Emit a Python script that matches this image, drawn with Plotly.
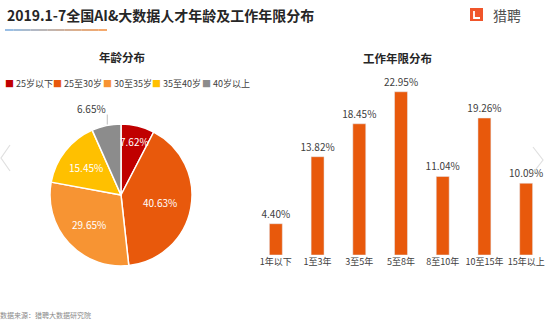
import math
import plotly.graph_objects as go

W, H = 553, 321

# ---- data ----
age_labels = ["25岁以下", "25至30岁", "30至35岁", "35至40岁", "40岁以上"]
age_values = [7.62, 40.63, 29.65, 15.45, 6.65]
age_colors = ["#C00000", "#E8590C", "#F79433", "#FFC000", "#8C8C8C"]

exp_labels = ["1年以下", "1至3年", "3至5年", "5至8年", "8至10年", "10至15年", "15年以上"]
exp_values = [4.40, 13.82, 18.45, 22.95, 11.04, 19.26, 10.09]

title_text = "2019.1-7全国AI&大数据人才年龄及工作年限分布"
source_text = "数据来源：猎聘大数据研究院"

FONT = "Noto Sans CJK SC"


def px(x):
    return x / W


def py(y):
    return (H - y) / H


# pie geometry (pixels)
PCX, PCY, PR = 121, 195, 71

fig = go.Figure()

fig.add_trace(go.Pie(
    labels=age_labels,
    values=age_values,
    textinfo="none",
    marker=dict(colors=age_colors, line=dict(color="white", width=1.5)),
    sort=False,
    direction="clockwise",
    rotation=0,
    domain=dict(x=[px(PCX - PR), px(PCX + PR)], y=[py(PCY + PR), py(PCY - PR)]),
    showlegend=False,
    hoverinfo="label+value",
))

fig.add_trace(go.Bar(
    x=exp_labels,
    y=exp_values,
    text=[f"{v:.2f}%" for v in exp_values],
    textposition="outside",
    constraintext="none",
    textfont=dict(color="#404040", size=10, family=FONT),
    cliponaxis=False,
    marker=dict(color="#E8590C"),
    showlegend=False,
    xaxis="x", yaxis="y",
))

fig.update_layout(
    width=W, height=H,
    margin=dict(l=0, r=0, t=0, b=0),
    paper_bgcolor="white",
    plot_bgcolor="white",
    font=dict(family=FONT, color="#404040"),
    bargap=0.69,
    xaxis=dict(domain=[px(255), px(547)], showline=False, showgrid=False,
               ticks="", tickangle=0, tickfont=dict(size=9, color="#404040", family=FONT),
               fixedrange=True),
    yaxis=dict(domain=[py(255), py(77.2)], range=[0, 25], visible=False,
               showgrid=False, fixedrange=True),
)

annotations = []
shapes = []

# pie labels placed from the data's cumulative angles
total = sum(age_values)
label_r = [0.78, 0.56, 0.62, 0.63, None]
cum = 0.0
for v, rf in zip(age_values, label_r):
    mid = (cum + v / 2) / total * 2 * math.pi
    cum += v
    dx, dy = math.sin(mid), -math.cos(mid)
    txt = f"{v:.2f}%"
    if rf is not None:
        annotations.append(dict(x=px(PCX + dx * PR * rf), y=py(PCY + dy * PR * rf),
                                xref="paper", yref="paper", xanchor="center",
                                yanchor="middle", showarrow=False, text=txt,
                                font=dict(size=10, color="white", family=FONT)))
    else:
        ex, ey = PCX + dx * PR, PCY + dy * PR
        shapes.append(dict(type="line", xref="paper", yref="paper",
                           x0=px(ex + 1), x1=px(ex + 1), y0=py(ey - 1), y1=py(ey - 11),
                           line=dict(color="#bfbfbf", width=1)))
        annotations.append(dict(x=px(ex + 2), y=py(ey - 17), xref="paper", yref="paper",
                                xanchor="right", yanchor="middle", showarrow=False,
                                text=txt,
                                font=dict(size=10, color="#404040", family=FONT)))

# title
annotations.append(dict(x=px(5), y=py(15), xref="paper", yref="paper", xanchor="left",
                        yanchor="middle", showarrow=False,
                        text=f"<b>{title_text}</b>",
                        font=dict(size=14, color="#262626", family=FONT)))
# logo text
annotations.append(dict(x=px(491), y=py(15), xref="paper", yref="paper", xanchor="left",
                        yanchor="middle", showarrow=False, text="猎聘",
                        font=dict(size=14, color="#505050", family=FONT)))
# subtitles
annotations.append(dict(x=px(122), y=py(57), xref="paper", yref="paper", xanchor="center",
                        yanchor="middle", showarrow=False, text="<b>年龄分布</b>",
                        font=dict(size=11.5, color="#262626", family=FONT)))
annotations.append(dict(x=px(397), y=py(58), xref="paper", yref="paper", xanchor="center",
                        yanchor="middle", showarrow=False, text="<b>工作年限分布</b>",
                        font=dict(size=11.5, color="#262626", family=FONT)))
# custom legend
leg_x = [3, 51, 101, 150, 200]
for lx, lab, col in zip(leg_x, age_labels, age_colors):
    annotations.append(dict(x=px(lx), y=py(83), xref="paper", yref="paper", xanchor="left",
                            yanchor="middle", showarrow=False,
                            text=f"<span style='color:{col}'>■</span> {lab}",
                            font=dict(size=9, color="#404040", family=FONT)))
# source
annotations.append(dict(x=px(-2), y=py(315), xref="paper", yref="paper", xanchor="left",
                        yanchor="middle", showarrow=False, text=source_text,
                        font=dict(size=7, color="#8a8a8a", family=FONT)))

# gradient underline under title
c0 = (120, 170, 220)
c1 = (240, 140, 60)
n = 12
x0, x1 = 5, 107
for i in range(n):
    t = i / (n - 1)
    col = "rgb(%d,%d,%d)" % tuple(int(c0[k] + (c1[k] - c0[k]) * t) for k in range(3))
    shapes.append(dict(type="line", xref="paper", yref="paper",
                       x0=px(x0 + (x1 - x0) * i / n), x1=px(x0 + (x1 - x0) * (i + 1) / n),
                       y0=py(30), y1=py(30), line=dict(color=col, width=1.5)))
# logo icon
shapes.append(dict(type="rect", xref="paper", yref="paper",
                   x0=px(470), x1=px(483), y0=py(21), y1=py(8),
                   fillcolor="#F0552A", line=dict(width=0)))
shapes.append(dict(type="path", xref="paper", yref="paper",
                   path=f"M {px(474)} {py(11)} L {px(474)} {py(18)} L {px(480)} {py(18)}",
                   line=dict(color="white", width=1.8)))
# carousel chevrons (faint)
shapes.append(dict(type="path", xref="paper", yref="paper",
                   path=f"M {px(10)} {py(145)} L {px(1)} {py(158)} L {px(10)} {py(171)}",
                   line=dict(color="#e0e0e0", width=1.2)))
shapes.append(dict(type="path", xref="paper", yref="paper",
                   path=f"M {px(533)} {py(147)} L {px(543)} {py(160)} L {px(533)} {py(173)}",
                   line=dict(color="#e0e0e0", width=1.2)))

fig.update_layout(annotations=annotations, shapes=shapes)

fig.write_html("out.html")
